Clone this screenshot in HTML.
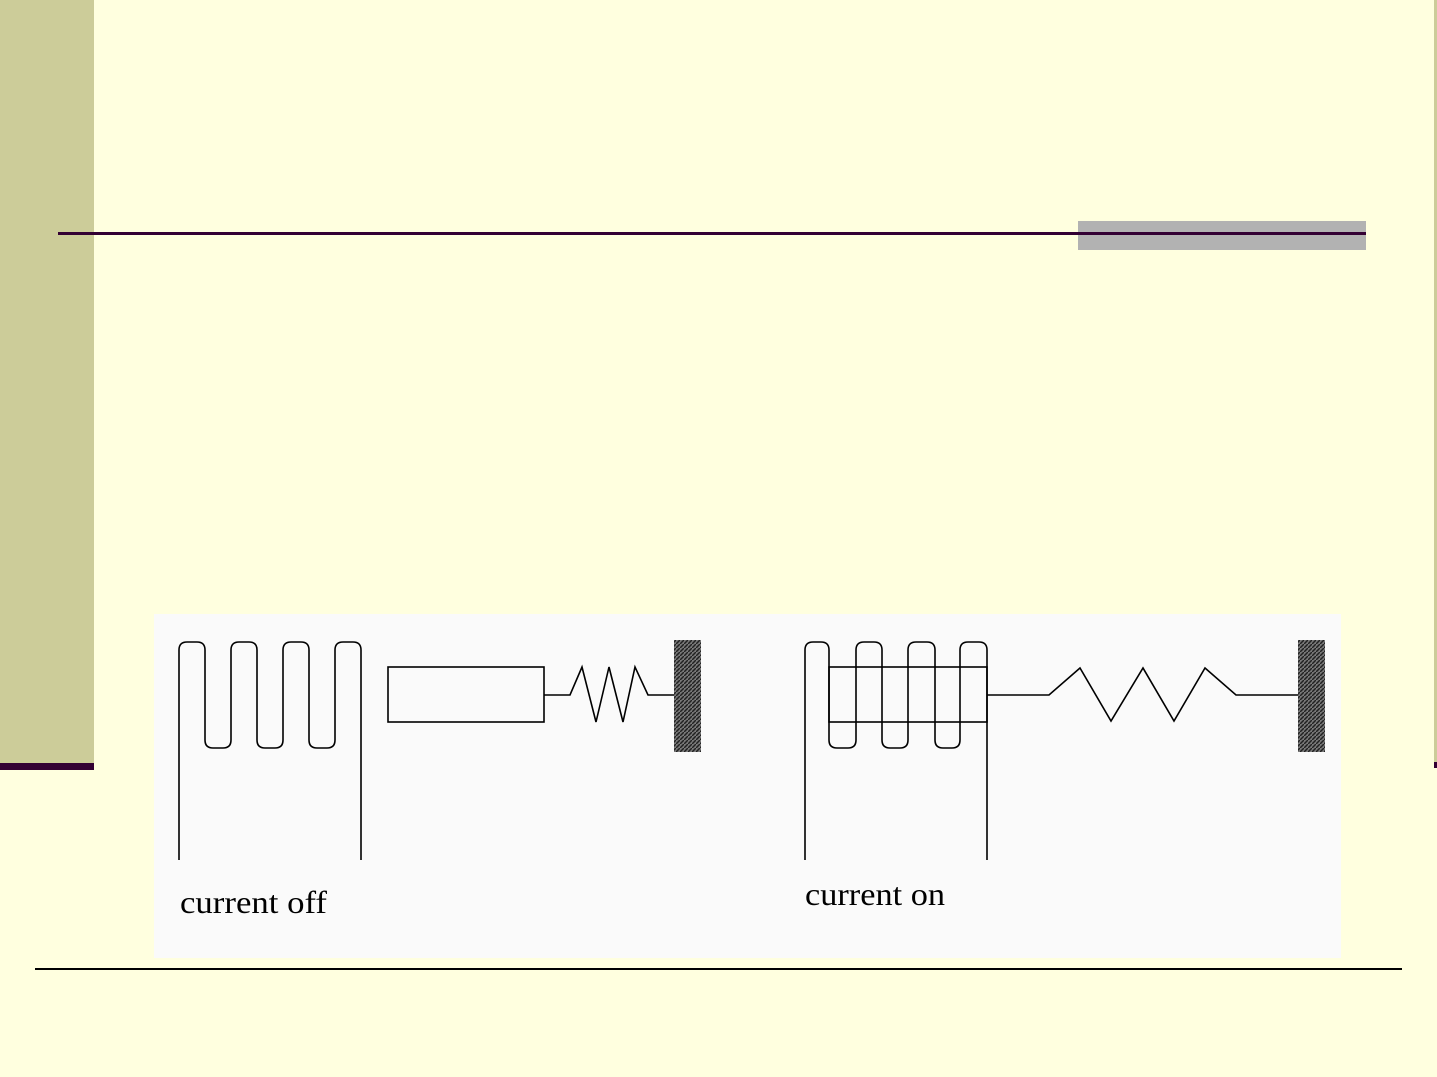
<!DOCTYPE html>
<html><head><meta charset="utf-8"><style>
html,body{margin:0;padding:0;background:#ffffdf;}
svg{display:block}
</style></head><body>
<svg width="1437" height="1077" viewBox="0 0 1437 1077" xmlns="http://www.w3.org/2000/svg">
<defs>
<pattern id="h" width="4" height="4" patternUnits="userSpaceOnUse">
<rect width="4" height="4" fill="#777"/>
<path d="M0 4 L4 0" stroke="#222" stroke-width="1.5"/>
</pattern>
</defs>
<rect width="1437" height="1077" fill="#ffffdf"/>
<rect x="0" y="0" width="94" height="763" fill="#cccc99"/>
<rect x="0" y="763" width="94" height="7" fill="#330033"/>
<rect x="1434" y="0" width="3" height="763" fill="#cccc99"/>
<rect x="1434" y="762" width="3" height="6" fill="#330033"/>
<rect x="1078" y="221" width="288" height="29" fill="#b2b2b2"/>
<rect x="58" y="232" width="1308" height="3" fill="#330033"/>
<rect x="35" y="968" width="1367" height="2" fill="#000"/>
<rect x="154" y="614" width="1187" height="344" fill="#fafafa"/>
<g fill="none" stroke="#000" stroke-width="1.6">
<path d="M179 860 L179 650 Q179 642 187 642 L197 642 Q205 642 205 650 L205 740 Q205 748 213 748 L223 748 Q231 748 231 740 L231 650 Q231 642 239 642 L249 642 Q257 642 257 650 L257 740 Q257 748 265 748 L275 748 Q283 748 283 740 L283 650 Q283 642 291 642 L301 642 Q309 642 309 650 L309 740 Q309 748 317 748 L327 748 Q335 748 335 740 L335 650 Q335 642 343 642 L353 642 Q361 642 361 650 L361 860"/>
<rect x="388" y="667" width="156" height="55"/>
<path d="M544 695 L570 695 L582 667 L596 722 L609 667 L623 722 L635 667 L648 695 L674 695"/>
<path d="M805 860 L805 650 Q805 642 813 642 L821 642 Q829 642 829 650 L829 740 Q829 748 837 748 L848 748 Q856 748 856 740 L856 650 Q856 642 864 642 L874 642 Q882 642 882 650 L882 740 Q882 748 890 748 L900 748 Q908 748 908 740 L908 650 Q908 642 916 642 L927 642 Q935 642 935 650 L935 740 Q935 748 943 748 L952 748 Q960 748 960 740 L960 650 Q960 642 968 642 L979 642 Q987 642 987 650 L987 860"/>
<rect x="829" y="667" width="158" height="55"/>
<path d="M987 695 L1049 695 L1080 668 L1111 721 L1143 668 L1174 721 L1205 668 L1236 695 L1298 695"/>
</g>
<rect x="674" y="640" width="27" height="112" fill="url(#h)"/>
<rect x="1298" y="640" width="27" height="112" fill="url(#h)"/>
<text x="180" y="913" font-family="Liberation Serif, serif" font-size="32" textLength="147" lengthAdjust="spacingAndGlyphs" fill="#000">current off</text>
<text x="805" y="905" font-family="Liberation Serif, serif" font-size="32" textLength="140" lengthAdjust="spacingAndGlyphs" fill="#000">current on</text>
</svg>
</body></html>
